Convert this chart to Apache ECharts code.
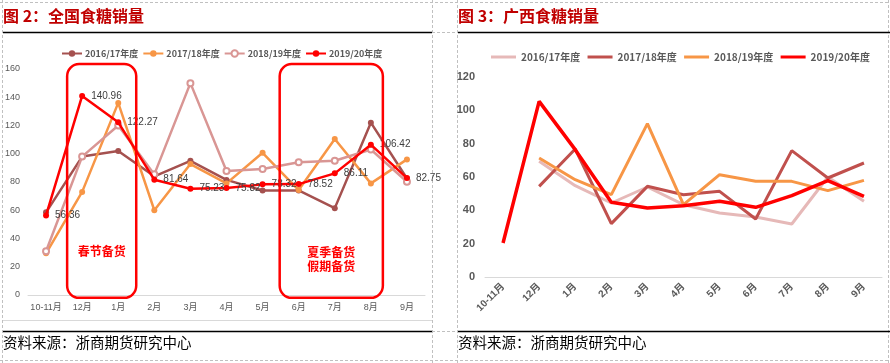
<!DOCTYPE html>
<html><head><meta charset="utf-8">
<script src="https://cdn.jsdelivr.net/npm/echarts@6/dist/echarts.min.js"></script>
<style>html,body{margin:0;padding:0;background:#fff}#c{width:890px;height:363px}</style>
</head><body><div id="c"></div>
<script>
var categories = ['10-11月','12月','1月','2月','3月','4月','5月','6月','7月','8月','9月'];
// 图2：全国食糖销量
var nat1617 = [58.5, 98, 102, 84, 95, 81.5, 74, 74, 61.5, 122, 82.5];
var nat1718 = [29.5, 73, 136, 60, 92.7, 79, 100.7, 74.3, 110.4, 79, 96];
var nat1819 = [31, 98, 120, 85.4, 150, 87.8, 89.2, 94, 95, 103, 80.2];
var nat1920 = [56.36, 140.96, 122.27, 81.64, 75.23, 75.82, 78.32, 78.52, 86.11, 106.42, 82.75];
// 图3：广西食糖销量
var gx1617 = [null, 69.4, 54.8, 44.4, 54, 43.4, 38.4, 36, 31.8, 60, 45.4];
var gx1718 = [null, 54.4, 76.8, 32, 54.4, 49.4, 51.4, 34.8, 75.8, 59.4, 68.4];
var gx1819 = [null, 71.4, 58.4, 49.4, 92, 43.4, 61.4, 57.4, 57.4, 51.8, 58];
var gx1920 = [20.4, 105.4, 76.4, 44.8, 41.4, 42.8, 45.4, 41.8, 48.8, 57.8, 48.4];
var seasons = ['2016/17年度','2017/18年度','2018/19年度','2019/20年度'];
var leftTicks = [0,20,40,60,80,100,120,140,160];
var rightTicks = [0,20,40,60,80,100,120];

var FONT = 'Liberation Sans, Noto Sans CJK SC, sans-serif';
var CJK = 'Noto Sans CJK SC, sans-serif';
var chart = echarts.init(document.getElementById('c'));

function dashV(x){return {type:'line',shape:{x1:x,y1:0,x2:x,y2:363},style:{stroke:'#c0c0c0',lineWidth:1,lineDash:[3,2]},silent:true};}
function dashH(y,x1,x2){return {type:'line',shape:{x1:x1,y1:y,x2:x2,y2:y},style:{stroke:'#c0c0c0',lineWidth:1,lineDash:[3,2]},silent:true};}
function solidH(y,x1,x2,c,w){return {type:'line',shape:{x1:x1,y1:y,x2:x2,y2:y},style:{stroke:c,lineWidth:w},silent:true};}

var baseGraphic = [
  dashV(2.5), dashV(432.5), dashV(457.5), dashV(888.5),
  dashH(2.5,0,890), dashH(32.5,432,458), dashH(331.5,432,458), dashH(360.5,0,890),
  solidH(32.5,3,432,'#000',1.5), solidH(32.5,458,890,'#000',1.5),
  solidH(331.5,3,432,'#000',1.5), solidH(331.5,458,890,'#000',1.5),
  solidH(320.5,3,432,'#d9d9d9',1),
  {type:'text',left:3,top:8,style:{text:'图 2：全国食糖销量',font:'bold 16px '+CJK,fill:'#C00000'}},
  {type:'text',left:458,top:8,style:{text:'图 3：广西食糖销量',font:'bold 16px '+CJK,fill:'#C00000'}},
  {type:'text',left:3,top:335,style:{text:'资料来源：浙商期货研究中心',font:'14.5px '+CJK,fill:'#000'}},
  {type:'text',left:458,top:335,style:{text:'资料来源：浙商期货研究中心',font:'14.5px '+CJK,fill:'#000'}}
];

function natSeries(name,data,color,sym,label){
  var s = {name:name,type:'line',xAxisIndex:0,yAxisIndex:0,data:data,symbol:sym,symbolSize:6,
    lineStyle:{color:color,width:2.5},itemStyle:{color:color},z: label?5:2};
  if(label){s.label={show:true,position:'right',distance:6,color:'#404040',fontSize:10,fontFamily:FONT};}
  return s;
}
function gxSeries(name,data,color,w){
  return {name:name,type:'line',xAxisIndex:1,yAxisIndex:1,data:data,symbol:'none',
    lineStyle:{color:color,width:w},itemStyle:{color:color},connectNulls:false};
}

var option = {
  animation:false,
  backgroundColor:'#fff',
  legend:[
    {data:seasons.slice(),left:56,top:44,itemWidth:20,itemHeight:8,itemGap:4,
     textStyle:{color:'#595959',fontSize:9,fontWeight:'bold',fontFamily:CJK,padding:[0,0,0,-2]},
     selectedMode:false},
    {data:seasons.map(function(s){return s+' ';}),left:486,top:47,itemWidth:25,itemHeight:3,itemGap:5,icon:'rect',
     textStyle:{color:'#595959',fontSize:10,fontWeight:'bold',fontFamily:CJK},selectedMode:false}
  ],
  grid:[
    {left:28,top:69,width:397,height:226},
    {left:485,top:77,width:397,height:200}
  ],
  xAxis:[
    {type:'category',gridIndex:0,data:categories,boundaryGap:true,
     axisLine:{lineStyle:{color:'#d9d9d9'}},axisTick:{show:false},
     axisLabel:{color:'#595959',fontSize:9,fontFamily:FONT,margin:8,interval:0}},
    {type:'category',gridIndex:1,data:categories,boundaryGap:true,
     axisLine:{lineStyle:{color:'#d9d9d9'}},axisTick:{show:false},
     axisLabel:{color:'#595959',fontSize:10,fontWeight:'bold',fontFamily:FONT,margin:8,rotate:45,interval:0}}
  ],
  yAxis:[
    {type:'value',gridIndex:0,min:leftTicks[0],max:leftTicks[leftTicks.length-1],interval:leftTicks[1]-leftTicks[0],
     axisLine:{show:false},axisTick:{show:false},splitLine:{show:false},
     axisLabel:{color:'#595959',fontSize:9,fontFamily:FONT,margin:8}},
    {type:'value',gridIndex:1,min:rightTicks[0],max:rightTicks[rightTicks.length-1],interval:rightTicks[1]-rightTicks[0],
     axisLine:{show:false},axisTick:{show:false},splitLine:{show:false},
     axisLabel:{color:'#595959',fontSize:11,fontWeight:'bold',fontFamily:FONT,margin:10}}
  ],
  series:[
    natSeries(seasons[0],nat1617,'#A5514F','circle',false),
    natSeries(seasons[1],nat1718,'#F79646','circle',false),
    natSeries(seasons[2],nat1819,'#D99694','emptyCircle',false),
    natSeries(seasons[3],nat1920,'#FF0000','circle',true),
    gxSeries(seasons[0]+' ',gx1617,'#E6B9B8',3),
    gxSeries(seasons[1]+' ',gx1718,'#C0504D',3),
    gxSeries(seasons[2]+' ',gx1819,'#F79646',3),
    gxSeries(seasons[3]+' ',gx1920,'#FF0000',3.5)
  ],
  graphic: baseGraphic
};
chart.setOption(option);

// annotation boxes positioned from axis scales
function px(cat){return chart.convertToPixel({xAxisIndex:0},cat);}
function py(v){return chart.convertToPixel({yAxisIndex:0},v);}
var yTop = py(163.5), yBot = py(-2);
var b1x1 = px('12月')-15, b1x2 = px('1月')+18;
var b2x1 = px('6月')-19, b2x2 = px('8月')+12;
var boxes = [
  {type:'rect',shape:{x:b1x1,y:yTop,width:b1x2-b1x1,height:yBot-yTop,r:12},style:{fill:'none',stroke:'#FF0000',lineWidth:2.5},z:100},
  {type:'rect',shape:{x:b2x1,y:yTop,width:b2x2-b2x1,height:yBot-yTop,r:12},style:{fill:'none',stroke:'#FF0000',lineWidth:2.5},z:100},
  {type:'text',x:(b1x1+b1x2)/2,y:py(31),style:{text:'春节备货',font:'bold 12px '+CJK,fill:'#FF0000',align:'center',verticalAlign:'middle'},z:100},
  {type:'text',x:(b2x1+b2x2)/2,y:py(25),style:{text:'夏季备货\n假期备货',font:'bold 12px '+CJK,fill:'#FF0000',align:'center',verticalAlign:'middle',lineHeight:14},z:100}
];
chart.setOption({graphic: baseGraphic.concat(boxes)});
</script></body></html>
